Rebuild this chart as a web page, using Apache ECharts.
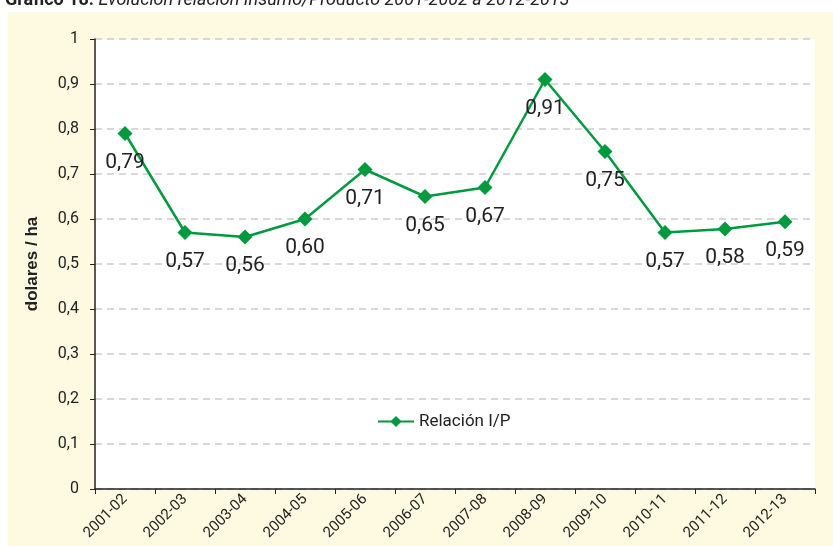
<!DOCTYPE html>
<html>
<head>
<meta charset="utf-8">
<script src="https://cdn.jsdelivr.net/npm/echarts@6/dist/echarts.min.js"></script>
<style>
  html, body { margin: 0; padding: 0; background: #fff; }
  #chart { width: 833px; height: 546px; }
</style>
</head>
<body>
<div id="chart"></div>
<script>
// datos del gráfico
var campanias = ['2001-02', '2002-03', '2003-04', '2004-05', '2005-06', '2006-07',
  '2007-08', '2008-09', '2009-10', '2010-11', '2011-12', '2012-13']
var relacionIP = [0.79, 0.57, 0.56, 0.60, 0.71, 0.65, 0.67, 0.91, 0.75, 0.57, 0.578, 0.594]
var yTicks = [0, 0.1, 0.2, 0.3, 0.4, 0.5, 0.6, 0.7, 0.8, 0.9, 1]

var verde = '#009a3e'
var fuente = "'Roboto', sans-serif"

var myChart = echarts.init(document.getElementById('chart'))

myChart.setOption({
  backgroundColor: '#fff',
  textStyle: { fontFamily: fuente },
  graphic: [{
    type: 'rect',
    z: -10,
    shape: { x: 8, y: 12, width: 825, height: 534 },
    style: { fill: '#fdfae1' }
  }],
  title: {
    left: 0,
    top: -14,
    text: '{b|Gráfico 18:} {i|Evolución relación Insumo/Producto 2001-2002 a 2012-2013}',
    textStyle: {
      rich: {
        b: { fontWeight: 'bold', fontSize: 18, color: '#222', fontFamily: fuente },
        i: { fontStyle: 'italic', fontWeight: 'normal', fontSize: 18, color: '#222', fontFamily: fuente }
      }
    }
  },
  legend: {
    left: 372,
    top: 408,
    data: ['Relación I/P'],
    itemWidth: 36,
    itemHeight: 14,
    itemGap: 4,
    textStyle: { fontSize: 17, color: '#222', fontFamily: fuente }
  },
  grid: {
    left: 95,
    right: 18,
    top: 39,
    bottom: 57,
    show: true,
    backgroundColor: '#fff',
    borderWidth: 0
  },
  xAxis: {
    type: 'category',
    data: campanias,
    boundaryGap: true,
    axisLine: { lineStyle: { color: '#222', width: 1.5 } },
    axisTick: { show: true, length: 5, lineStyle: { color: '#222' } },
    axisLabel: {
      rotate: 45,
      interval: 0,
      fontSize: 15,
      color: '#222',
      margin: 8
    }
  },
  yAxis: {
    type: 'value',
    min: 0,
    max: 1,
    interval: 0.1,
    name: 'dolares / ha',
    nameLocation: 'middle',
    nameGap: 54,
    nameTextStyle: { fontSize: 17, fontWeight: 'bold', color: '#222', fontFamily: "'Liberation Sans', sans-serif" },
    axisLine: { show: true, lineStyle: { color: '#222', width: 1.5 } },
    axisTick: { show: true, length: 5, lineStyle: { color: '#222' } },
    splitLine: { lineStyle: { color: '#cccccc', type: [7, 5], width: 1.5 } },
    axisLabel: {
      fontSize: 16,
      color: '#222',
      margin: 16,
      formatter: function (v) {
        var t = yTicks.find(function (k) { return Math.abs(k - v) < 1e-9 })
        return t === undefined ? '' : String(t).replace('.', ',')
      }
    }
  },
  series: [{
    name: 'Relación I/P',
    type: 'line',
    data: relacionIP,
    symbol: 'diamond',
    symbolSize: 15,
    color: verde,
    lineStyle: { width: 2.5, color: verde },
    itemStyle: { color: verde },
    label: {
      show: true,
      position: 'bottom',
      distance: 11,
      fontSize: 21,
      color: '#222',
      formatter: function (p) { return p.value.toFixed(2).replace('.', ',') }
    }
  }]
})
</script>
</body>
</html>
